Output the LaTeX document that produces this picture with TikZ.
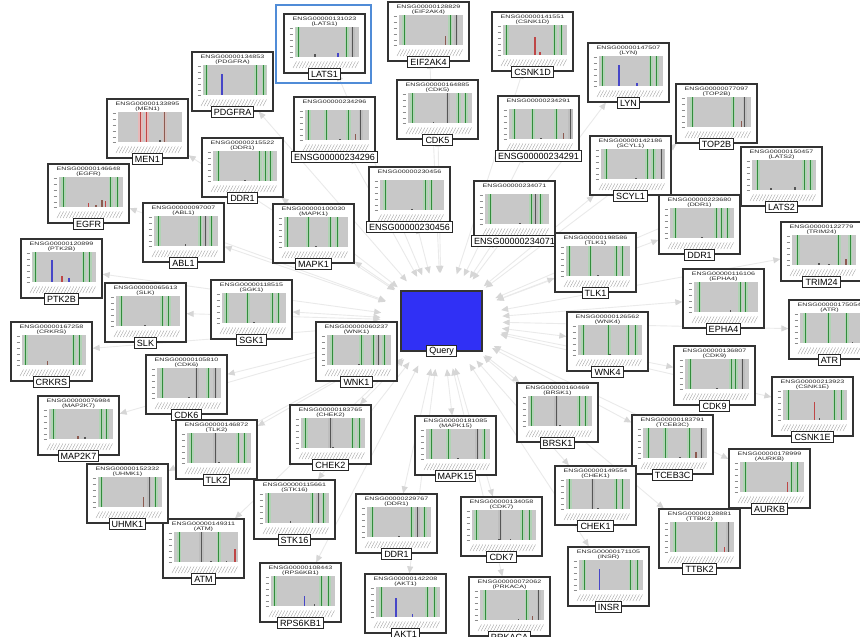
\documentclass[tikz,border=0pt]{standalone}
\usepackage{fontspec}
\setmainfont{Liberation Sans}
\usepackage{graphicx}
\usetikzlibrary{arrows.meta,shapes.geometric}
\pgfdeclarelayer{bg}
\pgfsetlayers{bg,main}
\definecolor{gd}{RGB}{50,140,60}
\definecolor{kd}{RGB}{85,85,85}
\definecolor{rd}{RGB}{190,70,70}
\definecolor{br}{RGB}{140,90,80}
\definecolor{bb}{RGB}{70,70,200}
\definecolor{plotbg}{RGB}{200,200,200}
\definecolor{qblue}{RGB}{48,48,245}
\definecolor{hlblue}{RGB}{80,140,215}
\definecolor{edgec}{RGB}{234,234,234}
\definecolor{tipc}{RGB}{214,214,214}
\tikzset{
 genebox/.style={draw=black!80, line width=1.3pt, fill=white, minimum width=81pt, minimum height=59pt, inner sep=0pt},
 hdr/.style={inner sep=0pt, font=\fontsize{4.9}{4.9}\selectfont, text=black!85},
 lbl/.style={draw=black!85, line width=1.1pt, fill=white, font=\fontsize{9}{9}\selectfont, inner xsep=2.6pt, inner ysep=1.2pt, minimum height=10.5pt},
 tickmk/.style={draw=black!45, line width=0.4pt},
 scrib/.style={draw=black!38, line width=0.35pt},
 qbox/.style={draw=black!80, line width=1.2pt, fill=qblue, minimum width=81pt, minimum height=60pt, inner sep=0pt},
 hlbox/.style={draw=hlblue, line width=2pt, minimum width=95pt, minimum height=78pt, inner sep=0pt},
 linkline/.style={draw=edgec, line width=0.9pt, {Triangle[length=7pt,width=6pt,color=tipc]}-{Triangle[length=7pt,width=6pt,color=tipc]}}
}
\newcommand{\gn}[8]{%
  \node[genebox] (#1) at (#2+40.5,#3+29.5) {};
  \begin{scope}[shift={(#2,#3)}]
    \node[hdr] at (40.5,4.9) {\scalebox{1.45}[1]{#4}};
    \node[hdr] at (40.5,9.8) {\scalebox{1.45}[1]{#5}};
    \fill[plotbg] (11,13) rectangle (75,43);
    \foreach \gx/\gc in {#7}{%
      \fill[fill=\gc!38] (11+64*\gx-2.1,13) rectangle (11+64*\gx+2.1,43);
      \draw[draw=\gc, line width=0.8pt] (11+64*\gx,13) -- (11+64*\gx,43);}
    \foreach \bp/\bh/\bc in {#8}{%
      \fill[fill=\bc] (11+64*\bp-0.75,43) rectangle (11+64*\bp+0.75,43-30*\bh);}
    \foreach \tk in {14,20,26,32,38,43}{\draw[tickmk] (5.5,\tk) -- (9,\tk);}
    \foreach \ii in {0,...,20}{\draw[scrib] (9+3.1*\ii,54) -- ++(3.5,-6.5);}
  \end{scope}
  \node[lbl] (#1l) at (#2+40.5,#3+60) {#6};
}
\begin{document}
\begin{tikzpicture}[x=1pt,y=-1pt]
\useasboundingbox (0,0) rectangle (860,637);
\begin{pgfonlayer}{bg}
\fill[white] (0,0) rectangle (860,637);
\end{pgfonlayer}
\clip (0,0) rectangle (860,637);

\node[ellipse, minimum width=122pt, minimum height=96pt, inner sep=0pt] (qring) at (441.5,321) {};

\gn{n1}{284}{14}{ENSG00000131023}{(LATS1)}{LATS1}{0.05/gd,0.81/gd,0.9/kd}{0.31/0.1/kd,0.67/0.15/bb}
\gn{n2}{388}{2}{ENSG00000128829}{(EIF2AK4)}{EIF2AK4}{0.08/gd,0.8/gd,0.89/kd}{0.73/0.3/br}
\gn{n3}{492}{12}{ENSG00000141551}{(CSNK1D)}{CSNK1D}{0.06/gd,0.81/gd,0.91/gd}{0.5/0.6/rd,0.58/0.1/rd}
\gn{n4}{588}{43}{ENSG00000147507}{(LYN)}{LYN}{0.06/gd,0.81/gd,0.9/gd}{0.31/0.7/bb,0.59/0.1/bb}
\gn{n5}{676}{84}{ENSG00000077097}{(TOP2B)}{TOP2B}{0.08/gd,0.72/gd,0.9/kd}{0.85/0.2/br}
\gn{n6}{741}{147}{ENSG00000150457}{(LATS2)}{LATS2}{0.09/gd,0.82/gd,0.92/gd}{0.3/0.08/kd,0.67/0.1/kd}
\gn{n7}{781}{222}{ENSG00000122779}{(TRIM24)}{TRIM24}{0.09/gd,0.73/gd,0.91/gd}{0.42/0.07/kd,0.58/0.04/kd,0.84/0.2/br}
\gn{n8}{789}{300}{ENSG00000175054}{(ATR)}{ATR}{0.08/gd,0.45/gd,0.73/gd}{0.82/0.05/kd}
\gn{n9}{772}{377}{ENSG00000213923}{(CSNK1E)}{CSNK1E}{0.08/gd,0.81/gd,0.92/gd}{0.49/0.6/rd,0.57/0.07/kd}
\gn{n10}{729}{449}{ENSG00000178999}{(AURKB)}{AURKB}{0.08/gd,0.81/gd,0.89/gd}{0.74/0.35/rd}
\gn{n11}{659}{509}{ENSG00000128881}{(TTBK2)}{TTBK2}{0.08/gd,0.72/gd,0.91/kd}{0.85/0.18/rd}
\gn{n12}{568}{547}{ENSG00000171105}{(INSR)}{INSR}{0.08/gd,0.81/gd,0.91/gd}{0.32/0.7/bb}
\gn{n13}{469}{577}{ENSG00000072062}{(PRKACA)}{PRKACA}{0.08/gd,0.73/gd,0.92/kd}{0.82/0.15/br,0.6/0.04/kd}
\gn{n14}{365}{574}{ENSG00000142208}{(AKT1)}{AKT1}{0.08/gd,0.8/gd,0.92/gd}{0.31/0.65/bb,0.57/0.1/bb}
\gn{n15}{260}{563}{ENSG00000108443}{(RPS6KB1)}{RPS6KB1}{0.06/gd,0.78/gd,0.9/gd}{0.52/0.35/bb,0.68/0.08/kd}
\gn{n16}{163}{519}{ENSG00000149311}{(ATM)}{ATM}{0.08/gd,0.43/kd,0.7/gd}{0.95/0.45/rd,0.58/0.05/kd,0.82/0.05/kd}
\gn{n17}{87}{464}{ENSG00000152332}{(UHMK1)}{UHMK1}{0.05/gd,0.8/kd,0.9/gd}{0.71/0.35/br}
\gn{n18}{38}{396}{ENSG00000076984}{(MAP2K7)}{MAP2K7}{0.07/gd,0.82/gd,0.9/gd}{0.45/0.1/br,0.56/0.08/kd}
\gn{n19}{11}{322}{ENSG00000167258}{(CRKRS)}{CRKRS}{0.06/gd,0.81/gd,0.9/gd}{0.4/0.15/br}
\gn{n20}{21}{239}{ENSG00000120899}{(PTK2B)}{PTK2B}{0.05/gd,0.81/gd,0.9/gd}{0.31/0.75/bb,0.47/0.2/rd,0.58/0.12/bb}
\gn{n21}{48}{164}{ENSG00000146648}{(EGFR)}{EGFR}{0.07/gd,0.81/gd,0.91/gd}{0.46/0.15/rd,0.58/0.08/br,0.67/0.25/br,0.73/0.2/rd}
\gn{n22}{107}{99}{ENSG00000133895}{(MEN1)}{MEN1}{0.35/rd,0.45/rd,0.73/br}{0.66/0.08/kd}
\gn{n23}{192}{52}{ENSG00000134853}{(PDGFRA)}{PDGFRA}{0.05/gd,0.83/gd,0.95/gd}{0.3/0.7/bb}
\gn{n24}{294}{97}{ENSG00000234296}{}{ENSG00000234296}{0.06/gd,0.33/gd,0.68/gd,0.87/kd}{0.79/0.2/br,0.55/0.03/kd}
\gn{n25}{397}{80}{ENSG00000164885}{(CDK5)}{CDK5}{0.07/gd,0.62/kd,0.79/gd,0.9/gd}{0.4/0.02/kd}
\gn{n26}{498}{96}{ENSG00000234291}{}{ENSG00000234291}{0.08/gd,0.37/gd,0.74/gd,0.96/kd}{0.85/0.2/br,0.5/0.02/kd}
\gn{n27}{590}{136}{ENSG00000142186}{(SCYL1)}{SCYL1}{0.08/gd,0.72/gd,0.82/gd,0.95/kd}{0.55/0.02/kd}
\gn{n28}{659}{195}{ENSG00000223680}{(DDR1)}{DDR1}{0.08/gd,0.72/gd,0.81/gd,0.9/gd}{0.5/0.02/kd}
\gn{n29}{202}{138}{ENSG00000215522}{(DDR1)}{DDR1}{0.08/gd,0.73/gd,0.82/gd,0.9/gd}{0.5/0.02/kd}
\gn{n30}{369}{167}{ENSG00000230456}{}{ENSG00000230456}{0.08/gd,0.71/gd,0.8/gd}{0.5/0.02/kd}
\gn{n31}{474}{181}{ENSG00000234071}{}{ENSG00000234071}{0.08/gd,0.72/gd,0.79/kd,0.87/gd}{0.55/0.02/kd}
\gn{n32}{555}{233}{ENSG00000198586}{(TLK1)}{TLK1}{0.05/gd,0.38/gd,0.78/gd,0.88/gd}{0.5/0.02/kd}
\gn{n33}{143}{203}{ENSG00000097007}{(ABL1)}{ABL1}{0.07/gd,0.72/gd,0.8/kd,0.89/gd}{0.49/0.06/kd}
\gn{n34}{273}{204}{ENSG00000100030}{(MAPK1)}{MAPK1}{0.05/gd,0.38/gd,0.72/gd,0.83/gd}{0.5/0.02/kd}
\gn{n35}{683}{269}{ENSG00000116106}{(EPHA4)}{EPHA4}{0.08/gd,0.72/gd,0.81/gd}{0.57/0.06/kd}
\gn{n36}{105}{283}{ENSG00000065613}{(SLK)}{SLK}{0.08/gd,0.72/gd,0.82/gd}{0.45/0.04/kd}
\gn{n37}{211}{280}{ENSG00000118515}{(SGK1)}{SGK1}{0.07/gd,0.4/gd,0.78/gd,0.88/gd}{0.5/0.02/kd}
\gn{n38}{316}{322}{ENSG00000060237}{(WNK1)}{WNK1}{0.08/gd,0.54/gd,0.72/gd,0.8/kd,0.89/gd}{0.5/0.02/kd}
\gn{n39}{567}{312}{ENSG00000126562}{(WNK4)}{WNK4}{0.08/gd,0.48/gd,0.78/gd,0.9/gd}{0.5/0.02/kd}
\gn{n40}{146}{355}{ENSG00000105810}{(CDK6)}{CDK6}{0.08/gd,0.62/kd,0.8/gd,0.91/kd}{0.5/0.02/kd}
\gn{n41}{674}{346}{ENSG00000136807}{(CDK9)}{CDK9}{0.08/gd,0.72/gd,0.79/gd,0.9/kd}{0.5/0.02/kd}
\gn{n42}{290}{405}{ENSG00000183765}{(CHEK2)}{CHEK2}{0.07/gd,0.46/kd,0.81/gd,0.91/gd}{0.5/0.02/kd}
\gn{n43}{517}{383}{ENSG00000160469}{(BRSK1)}{BRSK1}{0.06/gd,0.44/kd,0.8/gd,0.9/gd}{0.5/0.02/kd}
\gn{n44}{176}{420}{ENSG00000146872}{(TLK2)}{TLK2}{0.07/gd,0.44/kd,0.8/gd,0.9/gd}{0.5/0.02/kd}
\gn{n45}{415}{416}{ENSG00000181085}{(MAPK15)}{MAPK15}{0.08/gd,0.35/gd,0.8/kd,0.91/gd}{0.5/0.02/kd}
\gn{n46}{632}{415}{ENSG00000183791}{(TCEB3C)}{TCEB3C}{0.08/gd,0.35/gd,0.72/gd,0.92/kd}{0.83/0.2/br,0.58/0.03/kd}
\gn{n47}{555}{466}{ENSG00000149554}{(CHEK1)}{CHEK1}{0.06/gd,0.42/kd,0.78/gd,0.88/gd}{0.5/0.02/kd}
\gn{n48}{254}{480}{ENSG00000115661}{(STK16)}{STK16}{0.06/gd,0.74/gd,0.83/kd,0.92/gd}{0.4/0.08/kd}
\gn{n49}{356}{494}{ENSG00000229767}{(DDR1)}{DDR1}{0.08/gd,0.7/gd,0.79/kd,0.9/gd}{0.5/0.02/kd}
\gn{n50}{461}{497}{ENSG00000134058}{(CDK7)}{CDK7}{0.07/gd,0.44/kd,0.79/gd,0.9/gd}{0.42/0.05/kd,0.6/0.03/kd}

\node[qbox] (q) at (441.5,321) {};
\node[lbl] (ql) at (441.5,351) {Query};
\node[hlbox] (hl) at (323.5,44) {};

\begin{pgfonlayer}{bg}
\foreach \ii in {1,...,50}{\draw[linkline] (qring) -- (n\ii);}
\end{pgfonlayer}
\end{tikzpicture}
\end{document}
